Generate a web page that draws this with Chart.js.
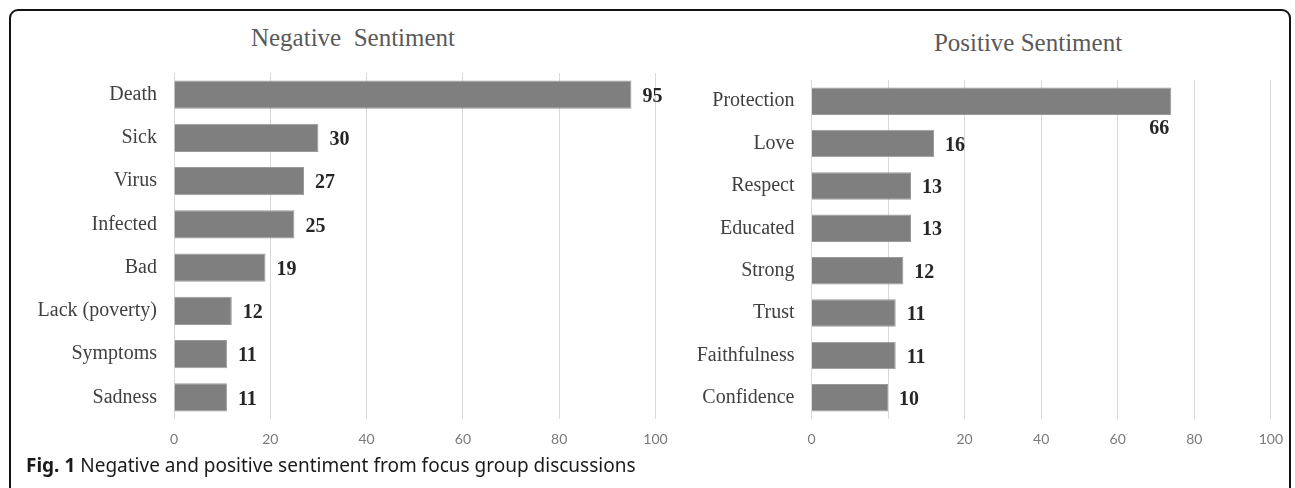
<!DOCTYPE html>
<html>
<head>
<meta charset="utf-8">
<script src="https://cdn.jsdelivr.net/npm/chart.js@4.4.1/dist/chart.umd.min.js"></script>
<style>
  html, body { margin: 0; padding: 0; background: #ffffff; }
  body { width: 1295px; height: 488px; position: relative; overflow: hidden; }
  #frame { position: absolute; left: 9px; top: 9px; width: 1282px; height: 520px;
           border: 2px solid #141414; border-radius: 9px; box-sizing: border-box; }
  .ttl { position: absolute; font-family: "Liberation Serif", serif; font-size: 25px;
         color: #595959; white-space: pre; text-align: center; width: 400px; line-height: 30px; }
  #capt { position: absolute; left: 26px; top: 453px; font-family: "Noto Sans", sans-serif;
          font-size: 19px; color: #1a1a1a; white-space: nowrap; line-height: 24px; }
  #capt b { font-weight: 700; }
  canvas { position: absolute; top: 0; }
</style>
</head>
<body>
<div id="frame"></div>
<div class="ttl" id="t1" style="left:153px; top:23px;">Negative  Sentiment</div>
<div class="ttl" id="t2" style="left:828px; top:28px;">Positive Sentiment</div>
<canvas id="neg" style="left:0px;"></canvas>
<canvas id="pos" style="left:640px;"></canvas>
<div id="capt"><b>Fig. 1</b> Negative and positive sentiment from focus group discussions</div>
<script>
// ---- data ----
const negCategories = ['Death', 'Sick', 'Virus', 'Infected', 'Bad', 'Lack (poverty)', 'Symptoms', 'Sadness'];
const negValues = [95, 30, 27, 25, 19, 12, 11, 11];
const negTickLabels = ['0', '20', '40', '60', '80', '100'];

const posCategories = ['Protection', 'Love', 'Respect', 'Educated', 'Strong', 'Trust', 'Faithfulness', 'Confidence'];
// bar lengths as read against the drawn gridlines
const posValues = [47, 16, 13, 13, 12, 11, 11, 10];
// values printed beside the bars
const posPrinted = [66, 16, 13, 13, 12, 11, 11, 10];
// tick labels printed under the gridlines (the second one is blank in the figure)
const posTickLabels = ['0', '', '20', '40', '60', '80', '100'];

// ---- value label plugin ----
const valueLabels = {
  id: 'valueLabels',
  afterDatasetsDraw(chart, args, opts) {
    const ctx = chart.ctx;
    const meta = chart.getDatasetMeta(0);
    ctx.save();
    ctx.font = 'bold 20px "Liberation Serif"';
    ctx.fillStyle = '#262626';
    ctx.textBaseline = 'middle';
    meta.data.forEach((bar, i) => {
      const txt = String(opts.labels[i]);
      if ((opts.below || []).includes(i)) {
        ctx.textAlign = 'right';
        ctx.fillText(txt, bar.x - 2, bar.y + bar.height / 2 + 14);
      } else {
        ctx.textAlign = 'left';
        ctx.fillText(txt, bar.x + 11, bar.y + 2);
      }
    });
    ctx.restore();
  }
};

function makeChart(id, width, cats, vals, printed, below, axisMax, step, tickLabels, yWidth, padTop, padRight) {
  const cv = document.getElementById(id);
  cv.width = width; cv.height = 460;
  cv.style.width = width + 'px'; cv.style.height = '460px';
  return new Chart(cv, {
    type: 'bar',
    data: {
      labels: cats,
      datasets: [{
        data: vals,
        backgroundColor: '#7f7f7f',
        borderColor: '#9a9a9a',
        borderWidth: 1,
        barPercentage: 0.65,
        categoryPercentage: 1.0
      }]
    },
    options: {
      indexAxis: 'y',
      responsive: false,
      animation: false,
      devicePixelRatio: 1,
      layout: { padding: { left: 0, right: padRight, top: padTop, bottom: 1 } },
      plugins: {
        legend: { display: false },
        title: { display: false },
        tooltip: { enabled: false },
        valueLabels: { labels: printed, below: below }
      },
      scales: {
        x: {
          min: 0, max: axisMax,
          ticks: {
            stepSize: step,
            padding: 12,
            color: '#7a7a7a',
            font: { family: 'Lato', size: 14 },
            maxRotation: 0,
            callback: (v, i) => tickLabels[i]
          },
          grid: { color: '#d9d9d9', lineWidth: 1, drawTicks: false },
          border: { display: false },
          afterFit: s => { s.height = 40; }
        },
        y: {
          ticks: {
            padding: 17,
            color: '#404040',
            font: { family: 'Liberation Serif', size: 20 }
          },
          grid: { display: false, drawTicks: false },
          border: { display: false },
          afterFit: s => { s.width = yWidth; }
        }
      }
    },
    plugins: [valueLabels]
  });
}

// left: chart area x 174..655.5, y 73..419
makeChart('neg', 680, negCategories, negValues, negValues, [], 100, 20, negTickLabels, 174, 73, 24.5);
// right: chart area x 811.5..1271, y 80..419
makeChart('pos', 655, posCategories, posValues, posPrinted, [0], 60, 10, posTickLabels, 171.5, 80, 24);
</script>
</body>
</html>
